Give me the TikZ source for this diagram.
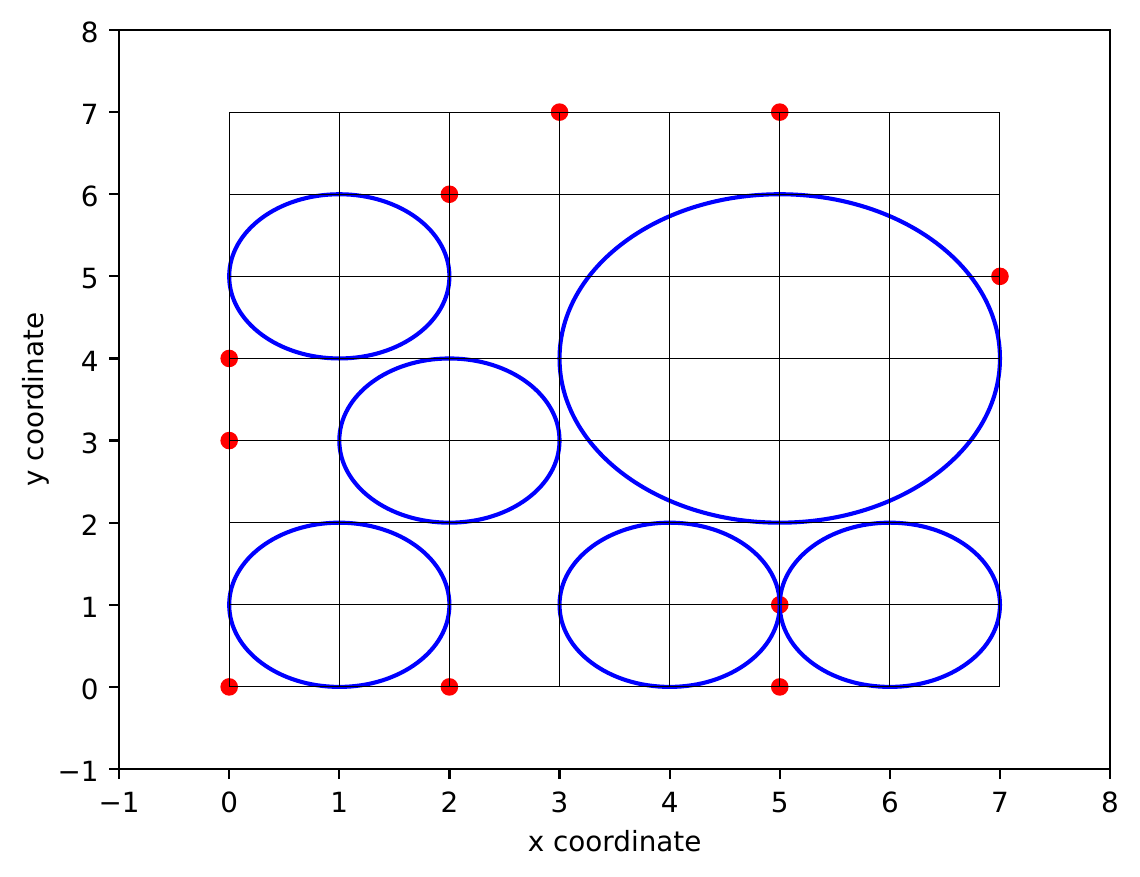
\documentclass[tikz,border=0pt]{standalone}
\usepackage{fontspec}
\setmainfont{DejaVu Sans}
\begin{document}
\begin{tikzpicture}[x=55.055pt,y=41.055pt,
  gridline/.style={black,line width=0.5pt},
  ring/.style={blue,line width=2.05pt},
  dot/.style={fill=red,draw=none},
  spine/.style={black,line width=1.1pt,line cap=rect},
  tickmark/.style={black,line width=1.1pt},
  ticklab/.style={inner sep=0pt,font=\fontsize{13.9}{16}\selectfont},
  axlab/.style={inner sep=0pt,font=\fontsize{13.9}{16}\selectfont}]
\useasboundingbox (-2.0815,-2.3031) rectangle (8.2717,8.3656);
% red points
\foreach \p/\q [count=\i] in {0/0,2/0,5/0,5/1,0/3,0/4,2/6,3/7,5/7,7/5}
  \fill[dot] (\p,\q) coordinate (pt\i) circle [radius=4.4pt];
% blue circles (radius 1 and 2 in data units)
\draw[ring] (1,5) circle [x radius=55.055pt, y radius=41.055pt];
\draw[ring] (2,3) circle [x radius=55.055pt, y radius=41.055pt];
\draw[ring] (1,1) circle [x radius=55.055pt, y radius=41.055pt];
\draw[ring] (4,1) circle [x radius=55.055pt, y radius=41.055pt];
\draw[ring] (6,1) circle [x radius=55.055pt, y radius=41.055pt];
\draw[ring] (5,4) circle [x radius=110.11pt, y radius=82.11pt];
% grid lines
\foreach \k in {0,...,7} {
  \draw[gridline] (\k,0) -- (\k,7);
  \draw[gridline] (0,\k) -- (7,\k);
}
% axes frame
\coordinate (ll) at (-1,-1);
\coordinate (ur) at (8,8);
\draw[spine] (ll) rectangle (ur);
% ticks and tick labels
\foreach \v in {-1,...,8} {
  \coordinate (bx\v) at (\v,-1);
  \coordinate (ly\v) at (-1,\v);
  \draw[tickmark] (bx\v) -- ++(0,-4.86pt);
  \draw[tickmark] (ly\v) -- ++(-4.86pt,0);
}
\foreach \v/\t in {-1/−1,0/0,1/1,2/2,3/3,4/4,5/5,6/6,7/7,8/8} {
  \node[ticklab,anchor=north] (xl\v) at ([yshift=-11.35pt]bx\v) {\t};
  \node[ticklab,anchor=east] (yl\v) at ([xshift=-10pt,yshift=-1.25pt]ly\v) {\t};
}
% axis labels
\node[axlab,anchor=base] (xlabel) at ([yshift=-41pt]3.5,-1) {x coordinate};
\node[axlab,anchor=base,rotate=90] (ylabel) at ([xshift=-37.85pt]-1,3.5) {y coordinate};
\end{tikzpicture}
\end{document}
